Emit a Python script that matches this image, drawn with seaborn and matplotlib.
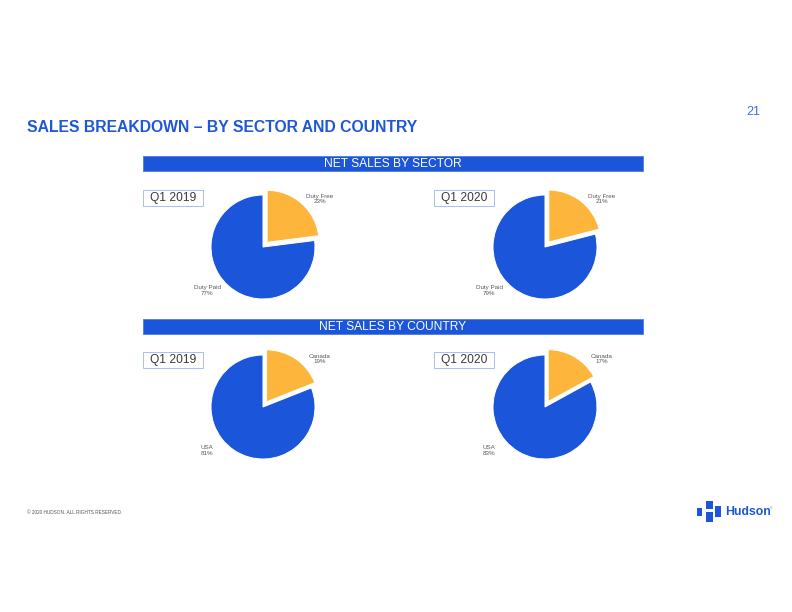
import matplotlib
matplotlib.use("Agg")
import matplotlib.pyplot as plt
import seaborn as sns
import numpy as np
from matplotlib.patches import Rectangle

# ---------------- data ----------------
periods = ["Q1 2019", "Q1 2020"]
sector_labels = ["Duty Free", "Duty Paid"]
sector_2019 = [23, 77]
sector_2020 = [21, 79]
country_labels = ["Canada", "USA"]
country_2019 = [19, 81]
country_2020 = [17, 83]

section_titles = ["NET SALES BY SECTOR", "NET SALES BY COUNTRY"]
page_title = "SALES BREAKDOWN \u2013 BY SECTOR AND COUNTRY"
page_number = "21"
footer = "\u00a9 2020 HUDSON. ALL RIGHTS RESERVED."

# ---------------- style ----------------
sns.set_theme(style="white")
plt.rcParams["font.family"] = ["Liberation Sans", "DejaVu Sans"]

BLUE = "#1B55D9"
YELLOW = "#FDB63B"
TITLE_BLUE = "#1F57D9"
palette = sns.color_palette([YELLOW, BLUE])

W, H = 792, 612
fig = plt.figure(figsize=(W / 72, H / 72), dpi=72)
fig.patch.set_facecolor("white")


def fx(x):
    return x / W


def fy(y):
    return 1 - y / H


# title & page number
fig.text(fx(27), fy(127), page_title, fontsize=15.8, fontweight="bold",
         color=TITLE_BLUE, ha="left", va="center")
fig.text(fx(760), fy(112), page_number, fontsize=12.5, color="#3F6CE0",
         ha="right", va="center")

# section header bars
for title, (y0, y1) in zip(section_titles, [(156, 171), (319, 334)]):
    fig.patches.append(Rectangle((fx(143), fy(y1)), fx(643) - fx(143), fy(y0) - fy(y1),
                                 transform=fig.transFigure, facecolor=BLUE,
                                 edgecolor="#4A78E6", linewidth=0.8))
    fig.text(fx(393), fy((y0 + y1) / 2 + 0.5), title, fontsize=12.0, color="white",
             ha="center", va="center")

# period boxes
box_specs = [(143, 190, periods[0]), (434, 190, periods[1]),
             (143, 352, periods[0]), (434, 352, periods[1])]
for x0, y0, lab in box_specs:
    fig.patches.append(Rectangle((fx(x0), fy(y0 + 16)), 60 / W, 16 / H,
                                 transform=fig.transFigure, facecolor="white",
                                 edgecolor="#A9C1F2", linewidth=1.0))
    fig.text(fx(x0 + 30), fy(y0 + 8), lab, fontsize=12, color="#3A3A3A",
             ha="center", va="center")

# pies
R_PIX = 52
S_PIX = 95
LABEL_ANGLES = [40, 218]        # degrees, label placement (Excel-like)
LABEL_DIST = [1.43, 1.36]       # in pie radii
pie_specs = [
    (263, 247, sector_2019, sector_labels),
    (545, 247, sector_2020, sector_labels),
    (263, 407, country_2019, country_labels),
    (545, 407, country_2020, country_labels),
]
for cx, cy, vals, labs in pie_specs:
    ax = fig.add_axes([fx(cx - S_PIX), fy(cy + S_PIX), 2 * S_PIX / W, 2 * S_PIX / H])
    lims = S_PIX / R_PIX
    wedges, _ = ax.pie(vals, colors=palette, startangle=90,
                       counterclock=False, explode=[0.12, 0.0])
    for lab, v, ang, d in zip(labs, vals, LABEL_ANGLES, LABEL_DIST):
        a = np.deg2rad(ang)
        ax.text(d * np.cos(a), d * np.sin(a), f"{lab}\n{v}%", fontsize=6.3,
                color="#595959", ha="center", va="center", multialignment="center",
                linespacing=1.1)
    ax.set_xlim(-lims, lims)
    ax.set_ylim(-lims, lims)
    ax.set_aspect("equal")
    ax.axis("off")

# footer
fig.text(fx(27), fy(513), footer, fontsize=4.7, color="#555555",
         ha="left", va="center")

# logo
logo_parts = [(697, 508, 5, 8), (706, 501, 7, 8), (706, 512, 7, 10), (715, 506, 6, 11)]
for x0, y0, w, h in logo_parts:
    fig.patches.append(Rectangle((fx(x0), fy(y0 + h)), w / W, h / H,
                                 transform=fig.transFigure, facecolor=BLUE,
                                 edgecolor="none"))
fig.text(fx(725), fy(512), "Hudson", fontsize=12.3, fontweight="bold",
         color=BLUE, ha="left", va="center")
fig.text(fx(770), fy(508), "\u00ae", fontsize=3, color=BLUE, ha="left", va="center")

fig.savefig("out.png", dpi=72, facecolor="white")
